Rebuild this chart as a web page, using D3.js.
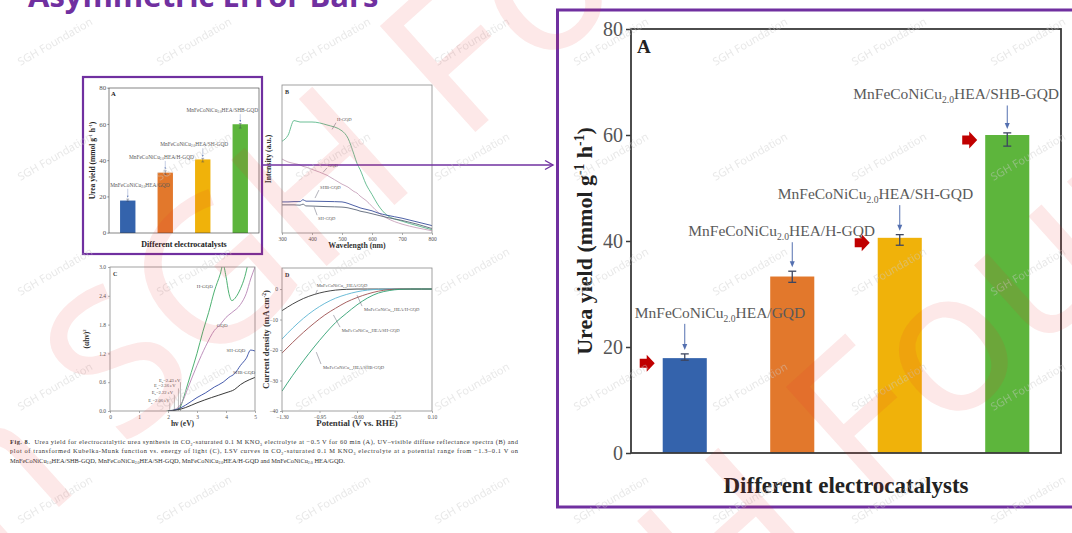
<!DOCTYPE html>
<html>
<head>
<meta charset="utf-8">
<script src="https://cdn.jsdelivr.net/npm/d3@7"></script>
<style>
  body { margin: 0; background: #fff; overflow: hidden; }
  svg { display: block; }
</style>
</head>
<body>
<svg id="slide" width="1072" height="533"></svg>
<script>
// ---- panel A data (urea yield, asymmetric error bars)
const catalysts = ["GQD", "H-GQD", "SH-GQD", "SHB-GQD"];
const catalystLabels = [
  ["MnFeCoNiCu", ["2.0", "sub"], "HEA/GQD"],
  ["MnFeCoNiCu", ["2.0", "sub"], "HEA/H-GQD"],
  ["MnFeCoNiCu", ["2.0", "sub"], "HEA/SH-GQD"],
  ["MnFeCoNiCu", ["2.0", "sub"], "HEA/SHB-GQD"]
];
const ureaYield = [17.9, 33.3, 40.6, 60.0];
const errUp = [0.8, 1.0, 0.6, 0.4];
const errDown = [0.4, 1.1, 1.4, 2.1];
const barColors = ["#3463ac", "#e2782c", "#f0b20a", "#5db53c"];
const highlighted = [true, false, true, true];
const yTicksA = [0, 20, 40, 60, 80];

// ---- panel B data (UV-vis spectra)
const wlB = [300, 320, 340, 360, 370, 380, 400, 450, 500, 520, 540, 550, 560, 580, 600, 620, 650, 700, 750, 800];
const intH = [.62, .66, .76, .75, .75, .75, .75, .73, .69, .64, .53, .47, .43, .33, .26, .19, .12, .08, .05, .022];
const intGQD = [.50, .48, .47, .46, .45, .445, .43, .39, .33, .31, .28, .27, .25, .22, .18, .14, .10, .06, .035, .015];
const intSHB = [.21, .21, .212, .212, .225, .215, .215, .213, .21, .20, .185, .178, .17, .16, .15, .135, .12, .10, .075, .05];
const intSH = [.19, .19, .19, .188, .195, .183, .182, .178, .175, .17, .16, .155, .148, .14, .13, .12, .105, .085, .06, .03];
const xTicksB = [300, 400, 500, 600, 700, 800];

// ---- panel C data (Kubelka-Munk)
const hvH = [1.95, 2.2, 2.4, 2.5, 2.6, 2.8, 3.0, 3.2, 3.4, 3.6, 3.8, 3.9, 4.0, 4.1, 4.2, 4.35, 4.5, 4.65, 4.75];
const kmH = [0, 0.02, 0.06, 0.2, 0.4, 0.8, 1.2, 1.65, 2.05, 2.5, 2.85, 3.05, 2.8, 2.45, 2.3, 2.38, 2.55, 2.8, 3.05];
const hvG = [2.0, 2.3, 2.5, 2.7, 3.0, 3.3, 3.6, 3.8, 4.0, 4.2, 4.5, 4.7, 4.85, 5.0];
const kmG = [0, 0.05, 0.2, 0.5, 0.95, 1.35, 1.68, 1.8, 1.95, 2.05, 2.22, 2.45, 2.75, 3.0];
const hvSH = [2.0, 2.3, 2.6, 3.0, 3.3, 3.6, 3.9, 4.1, 4.3, 4.5, 4.7, 4.85, 5.0];
const kmSH = [0, 0.03, 0.12, 0.28, 0.38, 0.5, 0.6, 0.7, 0.78, 0.95, 1.1, 1.27, 1.25];
const hvSHB = [2.0, 2.3, 2.6, 3.0, 3.5, 4.0, 4.3, 4.5, 4.8, 5.0];
const kmSHB = [0, 0.02, 0.07, 0.17, 0.28, 0.38, 0.45, 0.55, 0.65, 0.7];
const bandGaps = [2.43, 2.36, 2.22, 2.06];
const xTicksC = [0, 1, 2, 3, 4, 5];
const yTicksC = [0, 0.6, 1.2, 1.8, 2.4, 3.0];

// ---- panel D data (LSV)
const potD = [-1.3, -1.2, -1.1, -1.0, -0.9, -0.8, -0.7, -0.6, -0.5, -0.4, -0.3, -0.2, -0.1, 0, 0.1];
const jGQD = [-7.1, -4.9, -3.1, -1.8, -0.9, -0.35, -0.1, 0, 0, 0, 0, 0, 0, 0, 0];
const jH = [-16.4, -12.8, -9.6, -6.9, -4.7, -3.0, -1.8, -0.9, -0.35, -0.1, 0, 0, 0, 0, 0];
const jSH = [-21, -17.5, -14.2, -11.2, -8.5, -6.3, -4.3, -2.8, -1.6, -0.7, -0.2, 0, 0, 0, 0];
const jSHB = [-33.5, -28.3, -23.5, -19, -14.8, -11, -8, -5.2, -2.9, -1.3, -0.5, -0.1, 0, 0, 0];
const xTicksD = [-1.30, -0.95, -0.60, -0.25, 0.10];
const yTicksD = [0, -10, -20, -30, -40];

const serif = "'Liberation Serif','Times New Roman',serif";
const purple = "#7030a0";
const svg = d3.select("#slide");

// text with sub/superscript pieces
function rich(sel, parts, fs) {
  let shift = 0;
  parts.forEach(p => {
    const [str, kind] = typeof p === "string" ? [p, null] : p;
    const target = kind === "sub" ? fs * 0.25 : kind === "sup" ? -fs * 0.38 : 0;
    const t = sel.append("tspan").attr("dy", (target - shift).toFixed(2)).text(str);
    if (kind === "sub" || kind === "sup") t.attr("font-size", fs * 0.62);
    if (kind === "b") t.attr("font-weight", 700);
    shift = target;
  });
  return sel;
}

// slide title (cut off at top, as in the slide)
svg.append("text")
  .attr("x", 28).attr("y", 7)
  .attr("font-family", "'Open Sans',sans-serif").attr("font-weight", 700)
  .attr("font-size", 31).attr("fill", purple)
  .text("Asymmetric Error Bars");

// ---- panel A, drawn at full size then reused small
function drawUreaPanel(tx, ty, sx, sy, showMarkers) {
  const W = 430, H = 424;
  const g = svg.append("g").attr("transform", `translate(${tx},${ty}) scale(${sx},${sy})`);
  const x = d3.scaleBand().domain(catalysts).range([0, W]).paddingInner(0.59).paddingOuter(0.295);
  const y = d3.scaleLinear().domain([0, 80]).range([H, 0]);
  const cx = d => x(d) + x.bandwidth() / 2;

  g.selectAll("rect.bar").data(catalysts).join("rect")
    .attr("class", "bar")
    .attr("x", d => x(d)).attr("width", x.bandwidth())
    .attr("y", (d, i) => y(ureaYield[i]))
    .attr("height", (d, i) => H - y(ureaYield[i]))
    .attr("fill", (d, i) => barColors[i]);

  // asymmetric error bars
  const eb = g.selectAll("g.err").data(catalysts).join("g")
    .attr("class", "err").attr("stroke", "#3d4660").attr("stroke-width", 1.3);
  eb.append("line")
    .attr("x1", cx).attr("x2", cx)
    .attr("y1", (d, i) => y(ureaYield[i] + errUp[i]))
    .attr("y2", (d, i) => y(ureaYield[i] - errDown[i]));
  eb.append("line")
    .attr("x1", d => cx(d) - 4).attr("x2", d => cx(d) + 4)
    .attr("y1", (d, i) => y(ureaYield[i] + errUp[i]))
    .attr("y2", (d, i) => y(ureaYield[i] + errUp[i]));
  eb.append("line")
    .attr("x1", d => cx(d) - 4).attr("x2", d => cx(d) + 4)
    .attr("y1", (d, i) => y(ureaYield[i] - errDown[i]))
    .attr("y2", (d, i) => y(ureaYield[i] - errDown[i]));

  g.append("rect").attr("width", W).attr("height", H)
    .attr("fill", "none").attr("stroke", "#3a3a3a").attr("stroke-width", 1.8);

  const ya = g.append("g").call(d3.axisLeft(y).tickValues(yTicksA).tickSize(5).tickPadding(3));
  ya.select(".domain").remove();
  ya.selectAll("line").attr("stroke", "#3a3a3a").attr("stroke-width", 1.5);
  ya.selectAll("text").attr("font-family", serif).attr("font-size", 20).attr("fill", "#555");

  // name labels with blue pointer arrows
  const labelDx = [-50, -104, -122, -154];
  const labelAt = [25.5, 40.9, 47.9, 66.7];
  catalysts.forEach((d, i) => {
    const t = g.append("text")
      .attr("x", cx(d) + labelDx[i]).attr("y", y(labelAt[i]))
      .attr("font-family", serif).attr("font-size", 15.5).attr("fill", "#5a5a5a");
    rich(t, catalystLabels[i], 15.5);
    const y1 = y(labelAt[i]) + 6, y2 = y(ureaYield[i] + errUp[i]) - 4;
    g.append("line").attr("x1", cx(d)).attr("x2", cx(d)).attr("y1", y1).attr("y2", y2 - 5)
      .attr("stroke", "#5470b0").attr("stroke-width", 1);
    g.append("path")
      .attr("d", `M${cx(d) - 2.5},${y2 - 6}L${cx(d)},${y2}L${cx(d) + 2.5},${y2 - 6}Z`)
      .attr("fill", "#5470b0");
    if (showMarkers && highlighted[i]) {
      const tip = x(d) - 8, cy = y(ureaYield[i]) + 5;
      g.append("path")
        .attr("d", `M${tip - 15},${cy - 4.5}h7v-4l8,8.5l-8,8.5v-4h-7z`)
        .attr("fill", "#c00000");
    }
  });

  g.append("text").attr("x", 6).attr("y", 24)
    .attr("font-family", serif).attr("font-weight", 700).attr("font-size", 19).attr("fill", "#222")
    .text("A");

  const yt = g.append("text")
    .attr("transform", `translate(-39,${H / 2}) rotate(-90)`)
    .attr("text-anchor", "middle")
    .attr("font-family", serif).attr("font-weight", 700).attr("font-size", 22).attr("fill", "#222");
  rich(yt, ["Urea yield (mmol g", ["-1", "sup"], " h", ["-1", "sup"], ")"], 22);

  g.append("text").attr("x", W / 2).attr("y", H + 40)
    .attr("text-anchor", "middle")
    .attr("font-family", serif).attr("font-weight", 700).attr("font-size", 23).attr("fill", "#222")
    .text("Different electrocatalysts");
}

// ---- generic small line panel (B, C, D)
function drawLinePanel(p) {
  const g = svg.append("g").attr("transform", `translate(${p.left},${p.top})`);
  const x = d3.scaleLinear().domain(p.xDomain).range([0, p.w]);
  const y = d3.scaleLinear().domain(p.yDomain).range([p.h, 0]);
  const clipId = "clip" + p.letter;
  g.append("clipPath").attr("id", clipId).append("rect").attr("width", p.w).attr("height", p.h);

  const xa = g.append("g").attr("transform", `translate(0,${p.h})`)
    .call(d3.axisBottom(x).tickValues(p.xTicks).tickFormat(p.xFmt).tickSize(2).tickPadding(2));
  const ya = g.append("g")
    .call(d3.axisLeft(y).tickValues(p.yTicks).tickFormat(p.yFmt).tickSize(2).tickPadding(2));
  [xa, ya].forEach(a => {
    a.select(".domain").remove();
    a.selectAll("line").attr("stroke", "#777").attr("stroke-width", 0.6);
    a.selectAll("text").attr("font-family", serif).attr("font-size", 5.5).attr("fill", "#555");
  });

  const line = d3.line().x(d => x(d[0])).y(d => y(d[1])).curve(d3.curveMonotoneX);
  p.series.forEach(s => {
    g.append("path").datum(d3.zip(s.x, s.y))
      .attr("clip-path", `url(#${clipId})`)
      .attr("d", line).attr("fill", "none")
      .attr("stroke", s.color).attr("stroke-width", 0.9);
  });

  g.append("rect").attr("width", p.w).attr("height", p.h)
    .attr("fill", "none").attr("stroke", "#8a8a8a").attr("stroke-width", 0.8);

  g.append("text").attr("x", 3).attr("y", 9)
    .attr("font-family", serif).attr("font-weight", 700).attr("font-size", 6).attr("fill", "#333")
    .text(p.letter);

  const xt = g.append("text").attr("x", p.w / 2).attr("y", p.h + 15)
    .attr("text-anchor", "middle")
    .attr("font-family", serif).attr("font-weight", 700).attr("font-size", p.titleSize).attr("fill", "#333");
  rich(xt, p.xTitle, p.titleSize);
  const yt = g.append("text")
    .attr("transform", `translate(${p.yTitleX},${p.h / 2}) rotate(-90)`)
    .attr("text-anchor", "middle")
    .attr("font-family", serif).attr("font-weight", 700).attr("font-size", p.titleSize).attr("fill", "#333");
  rich(yt, p.yTitle, p.titleSize);

  (p.notes || []).forEach(n => {
    const t = g.append("text").attr("x", x(n.at[0])).attr("y", y(n.at[1]))
      .attr("font-family", serif).attr("font-size", n.size || 4.6).attr("fill", "#555");
    rich(t, n.text, n.size || 4.6);
    if (n.lead) {
      g.append("line")
        .attr("x1", x(n.lead[0])).attr("y1", y(n.lead[1]))
        .attr("x2", x(n.lead[2])).attr("y2", y(n.lead[3]))
        .attr("stroke", "#667").attr("stroke-width", 0.5);
    }
  });
  return { g, x, y };
}

// small figure on the left
drawUreaPanel(109, 88, 150 / 430, 145 / 424, false);

drawLinePanel({
  letter: "B", left: 282, top: 85, w: 150, h: 148,
  xDomain: [300, 800], yDomain: [0, 1],
  xTicks: xTicksB, yTicks: [], xFmt: d3.format("d"), yFmt: d3.format("d"),
  titleSize: 7.8, yTitleX: -11,
  xTitle: ["Wavelength (nm)"], yTitle: ["Intensity (a.u.)"],
  series: [
    { x: wlB, y: intH, color: "#5bb88a" },
    { x: wlB, y: intGQD, color: "#c7a3bb" },
    { x: wlB, y: intSHB, color: "#3a4f9c" },
    { x: wlB, y: intSH, color: "#5b6577" }
  ],
  notes: [
    { text: ["H-GQD"], at: [483, .76], lead: [480, .745, 467, .70] },
    { text: ["GQD"], at: [453, .446], lead: [450, .44, 437, .41] },
    { text: ["SHB-GQD"], at: [427, .30], lead: [423, .29, 410, .236] },
    { text: ["SH-GQD"], at: [420, .088], lead: [417, .12, 407, .175] }
  ]
});

const panelC = drawLinePanel({
  letter: "C", left: 110, top: 267, w: 145, h: 144,
  xDomain: [0, 5], yDomain: [0, 3],
  xTicks: xTicksC, yTicks: yTicksC, xFmt: d3.format("d"), yFmt: d3.format(".1f"),
  titleSize: 7.5, yTitleX: -21,
  xTitle: ["hν (eV)"], yTitle: ["(αhν)", ["2", "sup"]],
  series: [
    { x: hvH, y: kmH, color: "#3aa862" },
    { x: hvG, y: kmG, color: "#b784b4" },
    { x: hvSH, y: kmSH, color: "#3148a3" },
    { x: hvSHB, y: kmSHB, color: "#222" }
  ],
  notes: [
    { text: ["H-GQD"], at: [2.99, 2.56], size: 5 },
    { text: ["GQD"], at: [3.68, 1.76], size: 5 },
    { text: ["SH-GQD"], at: [4.02, 1.23], size: 5 },
    { text: ["SHB-GQD"], at: [4.24, 0.77], size: 5 },
    { text: ["E", ["g", "sub"], "=2.43 eV"], at: [1.69, 0.61], size: 4.6 },
    { text: ["E", ["g", "sub"], "=2.36 eV"], at: [1.52, 0.49], size: 4.6 },
    { text: ["E", ["g", "sub"], "=2.22 eV"], at: [1.44, 0.35], size: 4.6 },
    { text: ["E", ["g", "sub"], "=2.06 eV"], at: [1.32, 0.18], size: 4.6 }
  ]
});
// band gap leader lines
const egTop = [0.6, 0.47, 0.33, 0.16];
bandGaps.forEach((eg, i) => {
  panelC.g.append("line")
    .attr("x1", panelC.x(eg)).attr("x2", panelC.x(eg))
    .attr("y1", panelC.y(egTop[i])).attr("y2", panelC.y(0))
    .attr("stroke", "#555").attr("stroke-width", 0.4);
});

const cat2 = (s) => ["MnFeCoNiCu", ["2.0", "sub"], s];
drawLinePanel({
  letter: "D", left: 282, top: 268, w: 150, h: 143,
  xDomain: [-1.3, 0.1], yDomain: [-40, 6.9],
  xTicks: xTicksD, yTicks: yTicksD, xFmt: d3.format(".2f"), yFmt: d3.format("d"),
  titleSize: 8.8, yTitleX: -13,
  xTitle: ["Potential (V vs. RHE)"], yTitle: ["Current density (mA cm", ["-2", "sup"], ")"],
  series: [
    { x: potD, y: jGQD, color: "#333" },
    { x: potD, y: jH, color: "#5bb4d2" },
    { x: potD, y: jSH, color: "#9d4f4f" },
    { x: potD, y: jSHB, color: "#2fa072" }
  ],
  notes: [
    { text: cat2("HEA/GQD"), at: [-0.976, 0.66], lead: [-0.97, -0.3, -0.985, -1.5] },
    { text: cat2("HEA/H-GQD"), at: [-0.534, -7.2], lead: [-0.553, -5.6, -0.60, -2.0] },
    { text: cat2("HEA/SH-GQD"), at: [-0.743, -14.1], lead: [-0.758, -12.5, -0.82, -8.5] },
    { text: cat2("HEA/SHB-GQD"), at: [-0.917, -26.2], lead: [-0.936, -24.6, -0.98, -20.7] }
  ]
});

// caption
const capLines = [
  [["Fig. 8.", "b"], "  Urea yield for electrocatalytic urea synthesis in CO", ["2", "sub"], "-saturated 0.1 M KNO", ["3", "sub"],
   " electrolyte at −0.5 V for 60 min (A), UV–visible diffuse reflectance spectra (B) and"],
  ["plot of transformed Kubelka-Munk function vs. energy of light (C), LSV curves in CO", ["2", "sub"],
   "-saturated 0.1 M KNO", ["3", "sub"], " electrolyte at a potential range from −1.3–0.1 V on"],
  ["MnFeCoNiCu", ["2.0", "sub"], "HEA/SHB-GQD, MnFeCoNiCu", ["2.0", "sub"], "HEA/SH-GQD, MnFeCoNiCu", ["2.0", "sub"],
   "HEA/H-GQD and MnFeCoNiCu", ["2.0", "sub"], " HEA/GQD."]
];
capLines.forEach((parts, i) => {
  const t = svg.append("text").attr("x", 10).attr("y", 444 + i * 9.3)
    .attr("font-family", serif).attr("font-size", 6.4).attr("fill", "#333")
    .attr("xml:space", "preserve");
  if (i < 2) t.attr("textLength", 508).attr("lengthAdjust", "spacing");
  rich(t, parts, 6.4);
});

// purple highlight box, link arrow and zoomed frame
svg.append("rect").attr("x", 83).attr("y", 77).attr("width", 179).attr("height", 177)
  .attr("fill", "none").attr("stroke", purple).attr("stroke-width", 2.2);
svg.append("line").attr("x1", 262).attr("y1", 165).attr("x2", 553).attr("y2", 165)
  .attr("stroke", purple).attr("stroke-width", 1.6);
svg.append("path").attr("d", "M545,160.5L553,165L545,169.5")
  .attr("fill", "none").attr("stroke", purple).attr("stroke-width", 1.4);
svg.append("rect").attr("x", 557.5).attr("y", 10).attr("width", 540).attr("height", 497)
  .attr("fill", "none").attr("stroke", purple).attr("stroke-width", 3);

// zoomed panel A
drawUreaPanel(631, 29, 1, 1, true);

// ---- watermarks
const wmX = d3.range(8).map(i => 57 + 139 * i);
const wmY = [45, 160, 275, 390, 503];
const wm = svg.append("g").attr("font-family", "'Noto Sans',sans-serif").attr("font-size", 11)
  .attr("fill", "#cccccc").attr("opacity", 0.45).attr("text-anchor", "middle");
wmY.forEach(yy => wmX.forEach(xx => {
  wm.append("text").attr("transform", `translate(${xx},${yy}) rotate(-30)`).text("SGH Foundation");
}));

function bigMark(ox, oy) {
  const g = svg.append("g").attr("transform", `translate(${ox},${oy}) rotate(-42)`)
    .attr("font-family", "'Noto Sans',sans-serif").attr("font-size", 200)
    .attr("fill", "#e8342f").attr("opacity", 0.11);
  g.append("text").attr("x", -52).attr("text-anchor", "end").text("Foundation SGH");
  g.append("text").attr("x", 0).text("Foundation");
}
bigMark(461, 145);
bigMark(867, 506);
</script>
</body>
</html>
